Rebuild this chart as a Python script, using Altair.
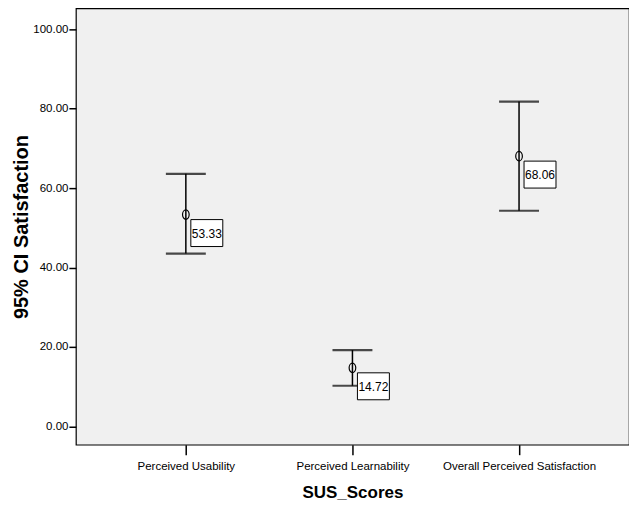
import altair as alt
import pandas as pd

categories = ["Perceived Usability", "Perceived Learnability", "Overall Perceived Satisfaction"]
means = [53.33, 14.72, 68.06]
lower = [43.5, 10.2, 54.3]
upper = [63.6, 19.2, 81.8]
labels = ["53.33", "14.72", "68.06"]
y_ticks = [0, 20, 40, 60, 80, 100]

df = pd.DataFrame({"cat": categories, "mean": means, "lo": lower, "hi": upper, "lab": labels})

FONT = "Liberation Sans, Arial, sans-serif"

x = alt.X("cat:N", sort=categories,
          scale=alt.Scale(type="point", padding=0.66),
          axis=alt.Axis(title="SUS_Scores", labelAngle=0, domain=False, tickSize=10,
                        tickWidth=1.5, tickColor="black", labelColor="black", labelFont=FONT,
                        labelFontSize=11.5, labelPadding=6, titleFont=FONT,
                        titleFontSize=17, titleFontWeight="bold", titlePadding=12,
                        titleColor="black"))
yscale = alt.Scale(domain=[-4.65, 105.28], nice=False, zero=False)
y = alt.Y("lo:Q", scale=yscale,
          axis=alt.Axis(title="95% CI Satisfaction", values=y_ticks, format=".2f",
                        domain=False, grid=False, tickSize=7, tickWidth=1.5, tickColor="black",
                        labelColor="black", labelFont=FONT, labelFontSize=11.5,
                        labelPadding=1, titleFont=FONT, titleFontSize=20,
                        titleFontWeight="bold", titlePadding=1, titleColor="black"))

base = alt.Chart(df)

rule = base.mark_rule(color="black", strokeWidth=1.5).encode(x=x, y=y, y2="hi:Q")
cap_lo = base.mark_tick(color="black", thickness=2.2, size=40).encode(
    x=alt.X("cat:N", sort=categories), y=alt.Y("lo:Q"))
cap_hi = base.mark_tick(color="black", thickness=2.2, size=40).encode(
    x=alt.X("cat:N", sort=categories), y=alt.Y("hi:Q"))
pt = base.mark_point(
    shape="M-0.7,0A0.7,1,0,1,0,0.7,0A0.7,1,0,1,0,-0.7,0Z",
    size=90, filled=False, color="black", strokeWidth=1.2, opacity=1,
).encode(x=alt.X("cat:N", sort=categories), y=alt.Y("mean:Q"))
box = base.mark_rect(fill="white", stroke="black", strokeWidth=1,
                     xOffset=5, x2Offset=37, yOffset=5, y2Offset=32).encode(
    x=alt.X("cat:N", sort=categories), x2=alt.X2("cat"),
    y=alt.Y("mean:Q"), y2=alt.Y2("mean"))
txt = base.mark_text(font=FONT, fontSize=12, color="black", dx=21, dy=19,
                     align="center", baseline="middle").encode(
    x=alt.X("cat:N", sort=categories), y=alt.Y("mean:Q"), text="lab:N")

chart = alt.layer(rule, cap_lo, cap_hi, pt, box, txt).properties(
    width=554, height=437,
    background="white",
    autosize=alt.AutoSizeParams(type="none"),
    padding={"left": 68, "top": 0, "right": 0, "bottom": 70},
).configure_view(fill="#f0f0f0", stroke="black", strokeWidth=1.2)

chart.save("out.html", embed_options={"renderer": "svg", "actions": False})
